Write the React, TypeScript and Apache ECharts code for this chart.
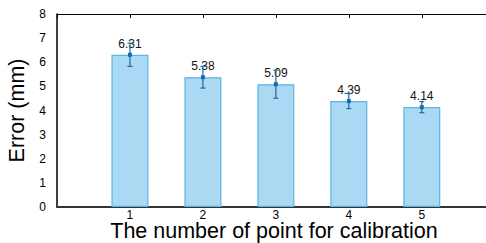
import React, { useEffect, useRef } from "react";
import * as echarts from "echarts";

const categories = [1, 2, 3, 4, 5];
const meanError = [6.31, 5.38, 5.09, 4.39, 4.14];
const errLow = [5.83, 4.93, 4.51, 4.08, 3.91];
const errHigh = [6.79, 5.83, 5.67, 4.70, 4.37];
const yTicks = [0, 1, 2, 3, 4, 5, 6, 7, 8];
const xTitle = "The number of point for calibration";
const yTitle = "Error (mm)";

const FONT = "Liberation Sans, Arial, Helvetica, sans-serif";

export default function App() {
  const ref = useRef<HTMLDivElement>(null);
  useEffect(() => {
    if (!ref.current) return;
    const chart = echarts.init(ref.current, null, { renderer: "svg" });
    const barData = categories.map((c, i) => [c, meanError[i]]);
    const errData = categories.map((c, i) => [c, errLow[i], errHigh[i], meanError[i]]);
    const errColor = "#1a6aab";
    chart.setOption({
      animation: false,
      grid: { left: 57, right: 0, top: 14, bottom: 36, containLabel: false, outerBoundsMode: "none" },
      graphic: [
        {
          type: "text",
          x: 274,
          y: 231,
          style: {
            text: xTitle,
            font: `21.5px ${FONT}`,
            fill: "#000",
            textAlign: "center",
            textVerticalAlign: "middle",
          },
        },
      ],
      xAxis: [
        {
          type: "value",
          min: 0,
          max: 5.88,
          interval: 1,
          position: "bottom",
          splitLine: { show: false },
          axisLine: { show: true, lineStyle: { color: "#333", width: 2 } },
          axisTick: { show: false },
          axisLabel: {
            fontSize: 12,
            fontFamily: FONT,
            color: "#000",
            margin: 2,
            customValues: categories,
            formatter: (v: number) => (categories.indexOf(v) >= 0 ? String(v) : ""),
          },
        },
        {
          type: "value",
          min: 0,
          max: 5.88,
          interval: 1,
          position: "top",
          splitLine: { show: false },
          axisLine: { show: true, lineStyle: { color: "#000", width: 1 } },
          axisTick: { show: true, inside: true, length: 4, lineStyle: { color: "#000" } },
          axisLabel: { show: false },
        },
      ],
      yAxis: {
        type: "value",
        min: 0,
        max: 8,
        interval: 1,
        name: yTitle,
        nameLocation: "middle",
        nameGap: 28,
        nameTextStyle: { fontSize: 21.5, fontFamily: FONT, color: "#000" },
        splitLine: { show: false },
        axisLine: { show: true, lineStyle: { color: "#000", width: 1.5 } },
        axisTick: { show: false },
        axisLabel: {
          fontSize: 12,
          fontFamily: FONT,
          color: "#000",
          margin: 11,
          customValues: yTicks,
        },
      },
      series: [
        {
          type: "bar",
          xAxisIndex: 0,
          data: barData,
          barWidth: 37,
          itemStyle: { color: "#abd9f3", borderColor: "#5ab4e6", borderWidth: 1.2 },
          label: {
            show: true,
            position: "top",
            distance: 5,
            fontSize: 12,
            fontFamily: FONT,
            color: "#111",
            formatter: (p: any) => p.value[1].toFixed(2),
          },
          z: 2,
        },
        {
          type: "custom",
          xAxisIndex: 0,
          data: errData,
          z: 5,
          renderItem: (params: any, api: any) => {
            const x = api.value(0);
            const lo = api.coord([x, api.value(1)]);
            const hi = api.coord([x, api.value(2)]);
            const mid = api.coord([x, api.value(3)]);
            const cap = 2.5;
            const style = { stroke: errColor, lineWidth: 1.2, fill: "none" };
            return {
              type: "group",
              children: [
                { type: "line", shape: { x1: lo[0], y1: lo[1], x2: hi[0], y2: hi[1] }, style },
                { type: "line", shape: { x1: lo[0] - cap, y1: lo[1], x2: lo[0] + cap, y2: lo[1] }, style },
                { type: "line", shape: { x1: hi[0] - cap, y1: hi[1], x2: hi[0] + cap, y2: hi[1] }, style },
                {
                  type: "rect",
                  shape: { x: mid[0] - 2, y: mid[1] - 2, width: 4, height: 4 },
                  style: { fill: errColor, stroke: "none" },
                },
              ],
            };
          },
        },
      ],
    });
    return () => chart.dispose();
  }, []);
  return <div ref={ref} style={{ width: 486, height: 243, position: "absolute", left: 0, top: 0 }} />;
}
